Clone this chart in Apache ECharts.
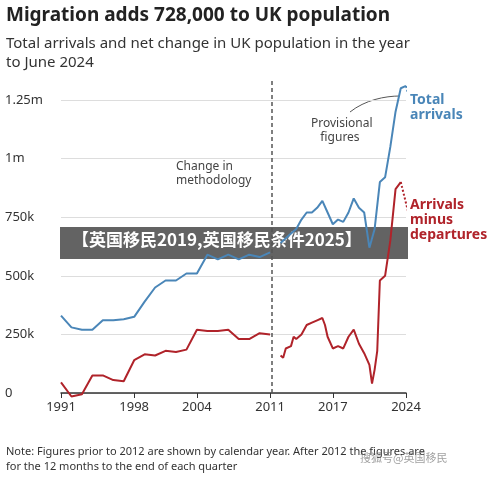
<!DOCTYPE html><html><head><meta charset="utf-8"><script src="https://cdn.jsdelivr.net/npm/echarts@6/dist/echarts.min.js"></script>
<style>body{margin:0;background:#fff}#c{width:500px;height:481px}</style></head><body><div id="c"></div><script>
const preYears=[1991,1992,1993,1994,1995,1996,1997,1998,1999,2000,2001,2002,2003,2004,2005,2006,2007,2008,2009,2010,2011];
const preArrivals=[330,280,270,270,310,310,315,325,390,450,480,480,510,510,590,570,590,570,590,580,600];
const preNet=[45,-15,-5,75,75,55,50,140,165,160,180,175,185,270,265,265,270,230,230,255,250];
const postArrYears=[2012,2012.5,2013,2013.5,2014,2014.5,2015,2015.5,2016,2016.5,2017,2017.5,2018,2018.5,2019,2019.5,2020,2020.5,2021,2021.5,2022,2022.5,2023,2023.5,2024];
const postArrivals=[640,660,680,700,740,770,770,790,820,770,720,740,730,770,830,790,770,620,700,900,920,1050,1200,1300,1310];
const postNetYears=[2012,2012.25,2012.5,2013,2013.25,2013.5,2014,2014.5,2015,2015.5,2016,2016.25,2016.5,2017,2017.5,2018,2018.5,2019,2019.5,2020,2020.5,2020.75,2021,2021.25,2021.5,2022,2022.5,2023,2023.5];
const postNet=[160,150,190,200,240,230,250,290,300,310,320,290,240,190,200,190,240,270,210,170,120,40,100,180,480,500,650,870,900];
const provArrYears=[2024,2024.5];const provArrivals=[1310,1230];
const provNetYears=[2023.5,2024.5];const provNet=[900,720];
const xLabels=[1991,1998,2004,2011,2017,2024];
const yLabels=['0','250k','500k','750k','1m','1.25m'];
const z=(xs,ys)=>xs.map((x,i)=>[x,ys[i]*1000]);
const blue='#4a86b8',red='#b0232a';
const ln=(d,c,dash)=>({type:'line',data:d,symbol:'none',clip:false,lineStyle:{color:c,width:2,type:dash?'dotted':'solid'},silent:true});
const ch=echarts.init(document.getElementById('c'));
ch.setOption({animation:false,
grid:{left:61,right:94,top:100,bottom:88},
xAxis:{type:'value',min:1991,max:2024,axisLine:{lineStyle:{color:'#333',width:1.5}},axisTick:{customValues:xLabels,length:5,lineStyle:{color:'#333'}},splitLine:{show:false},axisLabel:{customValues:xLabels,formatter:v=>String(v),color:'#333',fontSize:13,fontFamily:'Noto Sans'}},
yAxis:{type:'value',min:0,max:1250000,interval:250000,axisLabel:{formatter:v=>yLabels[Math.round(v/250000)],color:'#333',fontSize:13,fontFamily:'Noto Sans',align:'left',margin:56},splitLine:{lineStyle:{color:'#ddd'}},axisLine:{show:false},axisTick:{show:false}},
series:[ln(z(preYears,preArrivals),blue),ln(z(preYears,preNet),red),ln(z(postArrYears,postArrivals),blue),ln(z(postNetYears,postNet),red),ln(z(provArrYears,provArrivals),blue,1),ln(z(provNetYears,provNet),red,1),
{type:'line',data:[],markLine:{symbol:'none',silent:true,label:{show:false},lineStyle:{color:'#555',type:[4,3],width:1.5},data:[[{coord:[2011.2,0]},{coord:[2011.2,1250000],y:80}]]}}],
graphic:[
{type:'text',left:6,top:6,style:{text:'Migration adds 728,000 to UK population',font:'bold 19px Noto Sans',fill:'#222'}},
{type:'text',left:6,top:34,style:{text:'Total arrivals and net change in UK population in the year\nto June 2024',font:'15px Noto Sans',fill:'#333',lineHeight:19}},
{type:'text',left:410,top:93,style:{text:'Total\narrivals',font:'bold 14px Noto Sans',fill:blue,lineHeight:15}},
{type:'text',left:410,top:198,style:{text:'Arrivals\nminus\ndepartures',font:'bold 14px Noto Sans',fill:red,lineHeight:15}},
{type:'text',left:311,top:117,style:{text:'Provisional\n   figures',font:'12px Noto Sans',fill:'#444',lineHeight:14}},
{type:'text',left:176,top:160,style:{text:'Change in\nmethodology',font:'12px Noto Sans',fill:'#444',lineHeight:14,align:'center'}},
{type:'bezierCurve',shape:{x1:350,y1:112,cpx1:365,cpy1:100,x2:400,y2:96,cpx2:385,cpy2:96},style:{stroke:'#555',lineWidth:1}},
{type:'text',left:6,top:444,style:{text:'Note: Figures prior to 2012 are shown by calendar year. After 2012 the figures are\nfor the 12 months to the end of each quarter',font:'11px Noto Sans',fill:'#333',lineHeight:15}},
{type:'rect',shape:{x:60,y:227,width:348,height:32},style:{fill:'rgba(60,60,60,0.8)'}},
{type:'text',left:72,top:231,style:{text:'【英国移民2019,英国移民条件2025】',font:'bold 17px Noto Sans CJK SC',fill:'#fff'}},
{type:'text',left:360,top:452,style:{text:'搜狐号@英国移民',font:'11px Noto Sans CJK SC',fill:'rgba(120,120,120,0.7)'}}
]});
</script></body></html>
